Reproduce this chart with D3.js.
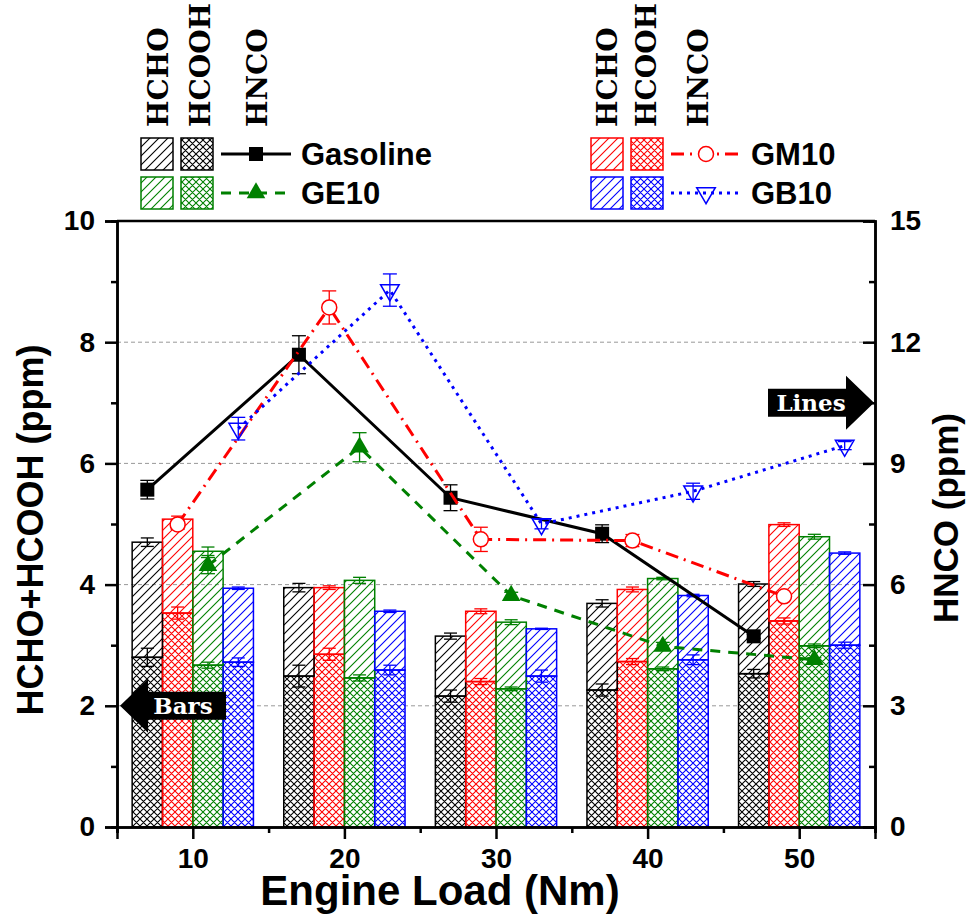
<!DOCTYPE html>
<html>
<head>
<meta charset="utf-8">
<script src="https://cdn.jsdelivr.net/npm/d3@7"></script>
<style>
  body { margin: 0; background: #fff; }
  svg { display: block; }
</style>
</head>
<body>
<svg id="chart" width="966" height="917"></svg>
<script>
// engine load groups and fuels
const loads = [10, 20, 30, 40, 50];
const fuels = ["Gasoline", "GM10", "GE10", "GB10"];
const fuelColors = ["#000000", "#ff0000", "#008000", "#0000ff"];

// HCOOH (bottom, cross hatched), ppm
const hcoohGasoline = [2.80, 2.49, 2.16, 2.26, 2.53];
const hcoohGM10     = [3.53, 2.85, 2.40, 2.73, 3.40];
const hcoohGE10     = [2.67, 2.46, 2.28, 2.61, 2.99];
const hcoohGB10     = [2.72, 2.59, 2.49, 2.76, 3.00];
const hcoohErr = [[0.15, 0.18, 0.10, 0.10, 0.07], [0.10, 0.10, 0.05, 0.05, 0.05],
                  [0.05, 0.05, 0.03, 0.03, 0.03], [0.07, 0.08, 0.10, 0.08, 0.05]];

// HCHO (top, diagonal hatched), ppm
const hchoGasoline = [1.90, 1.46, 0.99, 1.43, 1.48];
const hchoGM10     = [1.55, 1.10, 1.16, 1.19, 1.59];
const hchoGE10     = [1.88, 1.61, 1.10, 1.49, 1.80];
const hchoGB10     = [1.22, 0.97, 0.78, 1.06, 1.52];
const totalErr = [[0.07, 0.07, 0.05, 0.06, 0.04], [0.05, 0.03, 0.04, 0.04, 0.03],
                  [0.07, 0.05, 0.04, 0.02, 0.04], [0.02, 0.02, 0.01, 0.02, 0.02]];

// HNCO lines (right axis), ppm
const hncoGasoline = [8.35, 11.69, 8.15, 7.26, 4.72];
const hncoGM10     = [7.49, 12.86, 7.12, 7.09, 5.71];
const hncoGE10     = [6.47, 9.40, 5.73, 4.47, 4.14];
const hncoGB10     = [9.86, 13.29, 7.50, 8.31, 9.44];
const hncoErr = [[0.23, 0.47, 0.32, 0.22, 0.05], [0.12, 0.41, 0.30, 0.15, 0.08],
                 [0.20, 0.36, 0.08, 0.10, 0.05], [0.28, 0.40, 0.12, 0.20, 0.10]];

const leftTicks = [0, 2, 4, 6, 8, 10];
const rightTicks = [0, 3, 6, 9, 12, 15];

const hcooh = [hcoohGasoline, hcoohGM10, hcoohGE10, hcoohGB10];
const hcho = [hchoGasoline, hchoGM10, hchoGE10, hchoGB10];
const hnco = [hncoGasoline, hncoGM10, hncoGE10, hncoGB10];

const sans = "'Liberation Sans', Arial, sans-serif";
const serif = "'DejaVu Serif', serif";

const plotLeft = 117, plotRight = 875, plotTop = 221, plotBottom = 827;

const svg = d3.select("#chart");

const x = d3.scaleLinear().domain([5, 55]).range([plotLeft, plotRight]);
const yL = d3.scaleLinear().domain([0, 10]).range([plotBottom, plotTop]);
const yR = d3.scaleLinear().domain([0, 15]).range([plotBottom, plotTop]);

// hatch patterns
const defs = svg.append("defs");
fuelColors.forEach((c, i) => {
    defs.append("pattern")
        .attr("id", "diag" + i)
        .attr("patternUnits", "userSpaceOnUse")
        .attr("width", 9).attr("height", 9)
        .append("path")
        .attr("d", "M0,9 L9,0 M-3,3 L3,-3 M6,12 L12,6")
        .attr("stroke", c).attr("stroke-width", 1.1).attr("fill", "none");
    const p = defs.append("pattern")
        .attr("id", "cross" + i)
        .attr("patternUnits", "userSpaceOnUse")
        .attr("width", 7).attr("height", 7);
    p.append("path")
        .attr("d", "M0,7 L7,0 M-2,2 L2,-2 M5,9 L9,5 M0,0 L7,7 M-2,5 L2,9 M5,-2 L9,2")
        .attr("stroke", c).attr("stroke-width", 1.1).attr("fill", "none");
});

// gridlines
svg.append("g").selectAll("line")
    .data([2, 4, 6, 8])
    .enter().append("line")
    .attr("x1", plotLeft).attr("x2", plotRight)
    .attr("y1", d => yL(d)).attr("y2", d => yL(d))
    .attr("stroke", "#999").attr("stroke-width", 1)
    .attr("stroke-dasharray", "4,3");

// bars
const barRows = [];
fuels.forEach((f, i) => {
    loads.forEach((L, j) => {
        barRows.push({
            fuel: i, load: L,
            x0: L - 4 + 2 * i, x1: L - 2 + 2 * i,
            low: hcooh[i][j], total: hcooh[i][j] + hcho[i][j],
            lowErr: hcoohErr[i][j], totErr: totalErr[i][j]
        });
    });
});

const gBars = svg.append("g");
gBars.selectAll("rect.low")
    .data(barRows).enter().append("rect")
    .attr("class", "low")
    .attr("x", d => x(d.x0))
    .attr("width", d => x(d.x1) - x(d.x0))
    .attr("y", d => yL(d.low))
    .attr("height", d => yL(0) - yL(d.low))
    .attr("fill", d => `url(#cross${d.fuel})`)
    .attr("stroke", d => fuelColors[d.fuel]).attr("stroke-width", 1.5);

gBars.selectAll("rect.high")
    .data(barRows).enter().append("rect")
    .attr("class", "high")
    .attr("x", d => x(d.x0))
    .attr("width", d => x(d.x1) - x(d.x0))
    .attr("y", d => yL(d.total))
    .attr("height", d => yL(d.low) - yL(d.total))
    .attr("fill", d => `url(#diag${d.fuel})`)
    .attr("stroke", d => fuelColors[d.fuel]).attr("stroke-width", 1.5);

function errorBar(g, cx, cy0, cy1, color, cap) {
    g.append("line").attr("x1", cx).attr("x2", cx).attr("y1", cy0).attr("y2", cy1)
        .attr("stroke", color).attr("stroke-width", 1.3);
    [cy0, cy1].forEach(cy => {
        g.append("line").attr("x1", cx - cap / 2).attr("x2", cx + cap / 2)
            .attr("y1", cy).attr("y2", cy)
            .attr("stroke", color).attr("stroke-width", 1.3);
    });
}

barRows.forEach(d => {
    const cx = x((d.x0 + d.x1) / 2), c = fuelColors[d.fuel];
    errorBar(gBars, cx, yL(d.low - d.lowErr), yL(d.low + d.lowErr), c, 13);
    errorBar(gBars, cx, yL(d.total - d.totErr), yL(d.total + d.totErr), c, 13);
});

function drawMarker(g, i, cx, cy) {
    if (i === 0) {
        g.append("rect").attr("x", cx - 7).attr("y", cy - 7).attr("width", 14).attr("height", 14)
            .attr("fill", "#000");
    } else if (i === 1) {
        g.append("circle").attr("cx", cx).attr("cy", cy).attr("r", 7.5)
            .attr("fill", "#fff").attr("stroke", fuelColors[1]).attr("stroke-width", 1.5);
    } else if (i === 2) {
        g.append("path").attr("d", d3.symbol(d3.symbolTriangle, 150)())
            .attr("transform", `translate(${cx},${cy})`)
            .attr("fill", fuelColors[2]);
    } else {
        g.append("path").attr("d", d3.symbol(d3.symbolTriangle, 150)())
            .attr("transform", `translate(${cx},${cy}) rotate(180)`)
            .attr("fill", "none").attr("stroke", fuelColors[3]).attr("stroke-width", 1.5);
    }
}

// lines
const dashes = [null, "13,6,2,6", "10,8", "3,5"];
const gLines = svg.append("g");
const lineGen = d3.line().x(d => x(d[0])).y(d => yR(d[1]));

fuels.forEach((f, i) => {
    const pts = loads.map((L, j) => [L - 3 + 2 * i, hnco[i][j], hncoErr[i][j]]);
    gLines.append("path")
        .datum(pts)
        .attr("d", lineGen)
        .attr("fill", "none")
        .attr("stroke", fuelColors[i])
        .attr("stroke-width", 3)
        .attr("stroke-dasharray", dashes[i]);
    pts.forEach(p => errorBar(gLines, x(p[0]), yR(p[1] - p[2]), yR(p[1] + p[2]), fuelColors[i], 14));
    pts.forEach(p => drawMarker(gLines, i, x(p[0]), yR(p[1])));
});

// arrows
function arrow(tipX, tipY, dir, label) {
    const headL = 28, headH = 27, bodyL = 78, bodyH = 14;
    const s = dir; // -1 points left, +1 points right
    const pts = [
        [tipX, tipY],
        [tipX - s * headL, tipY - headH],
        [tipX - s * headL, tipY - bodyH],
        [tipX - s * (headL + bodyL), tipY - bodyH],
        [tipX - s * (headL + bodyL), tipY + bodyH],
        [tipX - s * headL, tipY + bodyH],
        [tipX - s * headL, tipY + headH]
    ];
    svg.append("polygon").attr("points", pts.map(p => p.join(",")).join(" ")).attr("fill", "#000");
    svg.append("text")
        .attr("x", tipX - s * (headL + bodyL / 2) + s * 4)
        .attr("y", tipY + 8)
        .attr("text-anchor", "middle")
        .attr("font-family", serif).attr("font-weight", "bold").attr("font-size", 23)
        .attr("fill", "#fff")
        .text(label);
}
arrow(x(5) + 3, yL(2), -1, "Bars");
arrow(x(55) - 1, yR(10.5), 1, "Lines");

// axes
const axisG = svg.append("g");
axisG.append("line").attr("x1", plotLeft).attr("x2", plotRight).attr("y1", plotTop).attr("y2", plotTop)
    .attr("stroke", "#000").attr("stroke-width", 2.5);

const ax = [];
ax.push(axisG.append("g").attr("transform", `translate(${plotLeft},0)`)
    .call(d3.axisLeft(yL).tickValues(leftTicks).tickSize(12).tickPadding(10).tickFormat(d3.format("d"))));
ax.push(axisG.append("g").attr("transform", `translate(${plotLeft},0)`)
    .call(d3.axisLeft(yL).tickValues([1, 3, 5, 7, 9]).tickSize(6).tickFormat("")));
ax.push(axisG.append("g").attr("transform", `translate(${plotRight},0)`)
    .call(d3.axisRight(yR).tickValues(rightTicks).tickSize(-12).tickPadding(15).tickFormat(d3.format("d"))));
ax.push(axisG.append("g").attr("transform", `translate(${plotRight},0)`)
    .call(d3.axisRight(yR).tickValues([1.5, 4.5, 7.5, 10.5, 13.5]).tickSize(-6).tickFormat("")));
ax.push(axisG.append("g").attr("transform", `translate(0,${plotBottom})`)
    .call(d3.axisBottom(x).tickValues(loads).tickSize(12).tickPadding(9).tickFormat(d3.format("d"))));
ax.push(axisG.append("g").attr("transform", `translate(0,${plotBottom})`)
    .call(d3.axisBottom(x).tickValues([5, 15, 25, 35, 45, 55]).tickSize(6).tickFormat("")));
ax.forEach(a => {
    a.select(".domain").attr("stroke-width", 2.5);
    a.selectAll(".tick line").attr("stroke-width", 2.5);
    a.selectAll(".tick text").attr("font-family", sans).attr("font-weight", "bold").attr("font-size", 28);
});

// axis titles
svg.append("text")
    .attr("x", 440).attr("y", 905)
    .attr("text-anchor", "middle")
    .attr("font-family", sans).attr("font-weight", "bold").attr("font-size", 42)
    .text("Engine Load (Nm)");
svg.append("text")
    .attr("transform", "translate(43,530) rotate(-90)")
    .attr("text-anchor", "middle")
    .attr("font-family", sans).attr("font-weight", "bold").attr("font-size", 36)
    .text("HCHO+HCOOH (ppm)");
svg.append("text")
    .attr("transform", "translate(958,518) rotate(-90)")
    .attr("text-anchor", "middle")
    .attr("font-family", sans).attr("font-weight", "bold").attr("font-size", 35)
    .text("HNCO (ppm)");

// legends
function legendBlock(baseX, headerXs, rows) {
    ["HCHO", "HCOOH", "HNCO"].forEach((t, k) => {
        svg.append("text")
            .attr("transform", `translate(${headerXs[k]},127) rotate(-90)`)
            .attr("font-family", serif).attr("font-weight", "bold").attr("font-size", 28)
            .text(t);
    });
    rows.forEach((r, k) => {
        const cy = 154 + k * 39;
        const c = fuelColors[r];
        svg.append("rect").attr("x", baseX).attr("y", cy - 16).attr("width", 32).attr("height", 32)
            .attr("fill", `url(#diag${r})`).attr("stroke", c).attr("stroke-width", 1.5);
        svg.append("rect").attr("x", baseX + 40).attr("y", cy - 16).attr("width", 32).attr("height", 32)
            .attr("fill", `url(#cross${r})`).attr("stroke", c).attr("stroke-width", 1.5);
        svg.append("line").attr("x1", baseX + 80).attr("x2", baseX + 150)
            .attr("y1", cy).attr("y2", cy)
            .attr("stroke", c).attr("stroke-width", 3).attr("stroke-dasharray", dashes[r]);
        drawMarker(svg, r, baseX + 115, cy);
        svg.append("text").attr("x", baseX + 160).attr("y", cy + 11)
            .attr("font-family", sans).attr("font-weight", "bold").attr("font-size", 31)
            .text(fuels[r]);
    });
}
legendBlock(141, [168, 210, 267], [0, 2]);
legendBlock(591, [617, 656, 708], [1, 3]);
</script>
</body>
</html>
